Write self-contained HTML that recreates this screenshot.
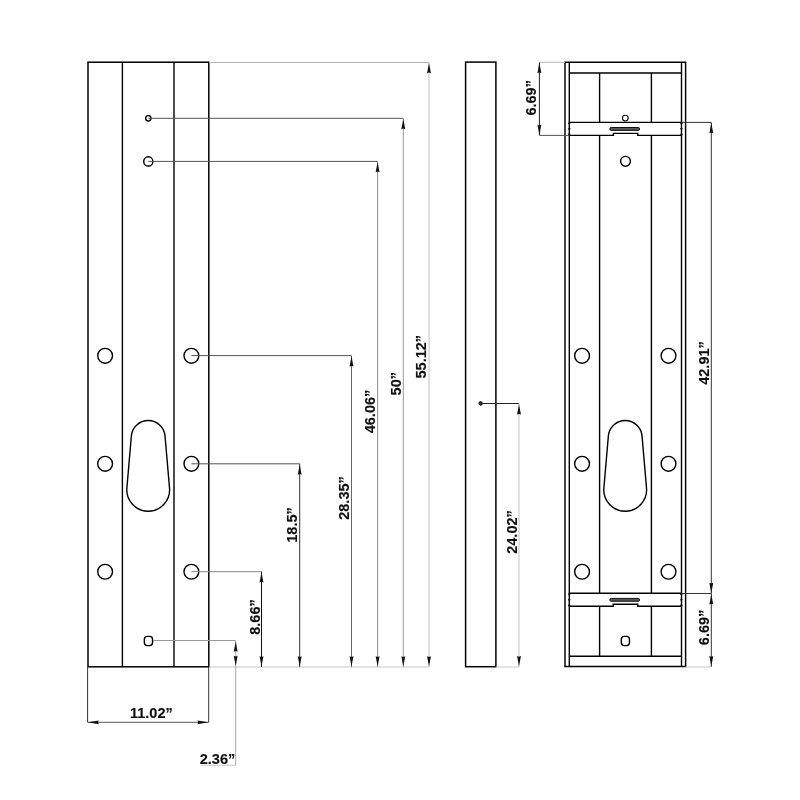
<!DOCTYPE html>
<html><head><meta charset="utf-8"><style>
html,body{margin:0;padding:0;background:#fff;}
svg{display:block;}
text{font-family:"Liberation Sans",sans-serif;font-weight:bold;fill:#111;stroke:#111;stroke-width:0.15px;}
svg{will-change:transform;}
</style></head><body>
<svg width="800" height="800" viewBox="0 0 800 800">
<rect width="800" height="800" fill="#fff"/>
<rect x="88" y="62.2" width="120.8" height="604.6" fill="none" stroke="#000" stroke-width="1.5"/>
<line x1="122.4" y1="62.2" x2="122.4" y2="666.8" stroke="#000" stroke-width="1.4"/>
<line x1="174" y1="62.2" x2="174" y2="666.8" stroke="#000" stroke-width="1.4"/>
<circle cx="148.3" cy="118.3" r="2.65" fill="none" stroke="#000" stroke-width="1.4"/>
<circle cx="148.3" cy="161.4" r="4.6" fill="none" stroke="#000" stroke-width="1.4"/>
<circle cx="105.1" cy="355.8" r="7.4" fill="none" stroke="#000" stroke-width="1.4"/>
<circle cx="191.4" cy="355.8" r="7.4" fill="none" stroke="#000" stroke-width="1.4"/>
<circle cx="105.1" cy="463.8" r="7.4" fill="none" stroke="#000" stroke-width="1.4"/>
<circle cx="191.4" cy="463.8" r="7.4" fill="none" stroke="#000" stroke-width="1.4"/>
<circle cx="105.1" cy="571.75" r="7.4" fill="none" stroke="#000" stroke-width="1.4"/>
<circle cx="191.4" cy="571.75" r="7.4" fill="none" stroke="#000" stroke-width="1.4"/>
<path d="M131.36,436.05 A16.9,16.9 0 0 1 165.04,436.05 L169.52,487.96 A21.4,21.4 0 1 1 126.88,487.96 Z" fill="none" stroke="#000" stroke-width="1.4"/>
<rect x="144.35" y="636.4" width="8.2" height="9.2" rx="3" fill="none" stroke="#000" stroke-width="1.4"/>
<line x1="209" y1="62.4" x2="429" y2="62.4" stroke="#b0b0b0" stroke-width="1"/>
<line x1="209" y1="667" x2="429" y2="667" stroke="#c8c8c8" stroke-width="1"/>
<line x1="429" y1="62.4" x2="429" y2="667" stroke="#c4c4c4" stroke-width="1"/>
<path d="M429,63 L430.95,73.3 L429,72.6 L427.05,73.3 Z" fill="#111"/>
<path d="M429,666.5 L430.95,656.2 L429,656.9000000000001 L427.05,656.2 Z" fill="#111"/>
<text transform="translate(426,356.7) rotate(-90)" text-anchor="middle" font-size="14.5">55.12”</text>
<line x1="148.3" y1="118.3" x2="403.3" y2="118.3" stroke="#555" stroke-width="1"/>
<line x1="403.3" y1="118.3" x2="403.3" y2="667" stroke="#9a9a9a" stroke-width="1"/>
<path d="M403.3,119 L405.25,129.3 L403.3,128.60000000000002 L401.35,129.3 Z" fill="#111"/>
<path d="M403.3,666.5 L405.25,656.2 L403.3,656.9000000000001 L401.35,656.2 Z" fill="#111"/>
<text transform="translate(400.5,383.7) rotate(-90)" text-anchor="middle" font-size="14.5">50”</text>
<line x1="148.3" y1="161.4" x2="377.6" y2="161.4" stroke="#555" stroke-width="1"/>
<line x1="377.6" y1="161.4" x2="377.6" y2="667" stroke="#8a8a8a" stroke-width="1"/>
<path d="M377.6,162 L379.55,172.3 L377.6,171.60000000000002 L375.65000000000003,172.3 Z" fill="#111"/>
<path d="M377.6,666.5 L379.55,656.2 L377.6,656.9000000000001 L375.65000000000003,656.2 Z" fill="#111"/>
<text transform="translate(374.7,411.5) rotate(-90)" text-anchor="middle" font-size="14.5">46.06”</text>
<line x1="191.4" y1="355.6" x2="351.5" y2="355.6" stroke="#555" stroke-width="1"/>
<line x1="351.5" y1="355.6" x2="351.5" y2="667" stroke="#666" stroke-width="1"/>
<path d="M351.5,356.3 L353.45,366.6 L351.5,365.90000000000003 L349.55,366.6 Z" fill="#111"/>
<path d="M351.5,666.5 L353.45,656.2 L351.5,656.9000000000001 L349.55,656.2 Z" fill="#111"/>
<text transform="translate(348.7,498) rotate(-90)" text-anchor="middle" font-size="14.5">28.35”</text>
<line x1="191.4" y1="463.8" x2="299.7" y2="463.8" stroke="#555" stroke-width="1"/>
<line x1="299.7" y1="463.8" x2="299.7" y2="667" stroke="#333" stroke-width="1"/>
<path d="M299.7,464.4 L301.65,474.7 L299.7,474.0 L297.75,474.7 Z" fill="#111"/>
<path d="M299.7,666.5 L301.65,656.2 L299.7,656.9000000000001 L297.75,656.2 Z" fill="#111"/>
<text transform="translate(297,525) rotate(-90)" text-anchor="middle" font-size="14.5">18.5”</text>
<line x1="191.4" y1="571.7" x2="261.5" y2="571.7" stroke="#888" stroke-width="1"/>
<line x1="261.5" y1="571.7" x2="261.5" y2="667" stroke="#111" stroke-width="1"/>
<path d="M261.5,572.2 L263.45,582.5 L261.5,581.8 L259.55,582.5 Z" fill="#111"/>
<path d="M261.5,666.5 L263.45,656.2 L261.5,656.9000000000001 L259.55,656.2 Z" fill="#111"/>
<text transform="translate(260,617) rotate(-90)" text-anchor="middle" font-size="14.5">8.66”</text>
<line x1="153" y1="640.5" x2="235.7" y2="640.5" stroke="#999" stroke-width="1"/>
<line x1="235.7" y1="640.5" x2="235.7" y2="765.5" stroke="#aaa" stroke-width="1"/>
<path d="M235.7,641.5 L237.64999999999998,651.8 L235.7,651.0999999999999 L233.75,651.8 Z" fill="#111"/>
<path d="M235.7,666 L237.64999999999998,655.7 L235.7,656.4000000000001 L233.75,655.7 Z" fill="#111"/>
<line x1="201" y1="765.3" x2="235.7" y2="765.3" stroke="#c4c4c4" stroke-width="0.9"/>
<text x="217.5" y="763.8" text-anchor="middle" font-size="14.5">2.36”</text>
<line x1="87.6" y1="667" x2="87.6" y2="722.3" stroke="#333" stroke-width="1"/>
<line x1="208.7" y1="667" x2="208.7" y2="722.2" stroke="#333" stroke-width="1"/>
<line x1="87.6" y1="722.3" x2="208.7" y2="722.3" stroke="#555" stroke-width="1"/>
<path d="M87.8,722.3 L98.8,724.1999999999999 L98.1,722.3 L98.8,720.4 Z" fill="#111"/>
<path d="M208.5,722.3 L197.5,724.1999999999999 L198.2,722.3 L197.5,720.4 Z" fill="#111"/>
<text x="151.4" y="718.1" text-anchor="middle" font-size="14.5">11.02”</text>
<rect x="465.6" y="62.1" width="30.3" height="604.6" fill="none" stroke="#000" stroke-width="1.5"/>
<circle cx="480.6" cy="403.5" r="1.6" fill="#444" stroke="#000" stroke-width="1.1"/>
<line x1="482" y1="403.5" x2="519" y2="403.5" stroke="#222" stroke-width="1"/>
<line x1="519" y1="403.5" x2="519" y2="667" stroke="#c8c8c8" stroke-width="1.1"/>
<line x1="495.9" y1="667" x2="519" y2="667" stroke="#c8c8c8" stroke-width="1"/>
<path d="M519,404.3 L520.95,414.6 L519,413.90000000000003 L517.05,414.6 Z" fill="#111"/>
<path d="M519,666.3 L520.95,656.0 L519,656.7 L517.05,656.0 Z" fill="#111"/>
<text transform="translate(517,532) rotate(-90)" text-anchor="middle" font-size="14.5">24.02”</text>
<line x1="565" y1="62.2" x2="565" y2="666.6" stroke="#000" stroke-width="1.45"/>
<line x1="685.6" y1="62.2" x2="685.6" y2="666.6" stroke="#000" stroke-width="1.45"/>
<line x1="564.3" y1="62.2" x2="686.3" y2="62.2" stroke="#000" stroke-width="1.5"/>
<line x1="564.3" y1="666.6" x2="686.3" y2="666.6" stroke="#000" stroke-width="1.5"/>
<line x1="569.3" y1="62.2" x2="569.3" y2="666.6" stroke="#000" stroke-width="1.4"/>
<line x1="681.5" y1="62.2" x2="681.5" y2="666.6" stroke="#000" stroke-width="1.4"/>
<line x1="569.3" y1="73" x2="681.5" y2="73" stroke="#000" stroke-width="1.4"/>
<line x1="569.3" y1="656.2" x2="681.5" y2="656.2" stroke="#000" stroke-width="1.4"/>
<line x1="599.6" y1="73" x2="599.6" y2="122.4" stroke="#000" stroke-width="1.4"/>
<line x1="599.6" y1="135.4" x2="599.6" y2="593.3" stroke="#000" stroke-width="1.4"/>
<line x1="599.6" y1="606" x2="599.6" y2="656.2" stroke="#000" stroke-width="1.4"/>
<line x1="651.4" y1="73" x2="651.4" y2="122.4" stroke="#000" stroke-width="1.4"/>
<line x1="651.4" y1="135.4" x2="651.4" y2="593.3" stroke="#000" stroke-width="1.4"/>
<line x1="651.4" y1="606" x2="651.4" y2="656.2" stroke="#000" stroke-width="1.4"/>
<line x1="569.3" y1="122.4" x2="681.5" y2="122.4" stroke="#000" stroke-width="1.4"/>
<path d="M569.3,135.4 L613.4,135.4 L613.4,133.4 L637.8,133.4 L637.8,135.4 L681.5,135.4" fill="none" stroke="#000" stroke-width="1.4"/>
<rect x="609.8" y="127.5" width="29.8" height="2.9" rx="1.45" fill="#555" stroke="#000" stroke-width="0.9"/>
<circle cx="625.3" cy="118.1" r="2.9" fill="none" stroke="#000" stroke-width="1.1"/>
<circle cx="625.5" cy="161.3" r="4.9" fill="none" stroke="#000" stroke-width="1.4"/>
<line x1="569.3" y1="593.3" x2="681.5" y2="593.3" stroke="#000" stroke-width="1.4"/>
<path d="M569.3,606.2 L613.2,606.2 L613.2,604.2 L637.8,604.2 L637.8,606.2 L681.5,606.2" fill="none" stroke="#000" stroke-width="1.4"/>
<rect x="609.8" y="598.4" width="29.8" height="2.9" rx="1.45" fill="#555" stroke="#000" stroke-width="0.9"/>
<circle cx="569.3" cy="123.3" r="1.15" fill="#000"/>
<circle cx="569.3" cy="128.8" r="1.15" fill="#000"/>
<circle cx="569.3" cy="134.6" r="1.15" fill="#000"/>
<circle cx="569.3" cy="594.1" r="1.15" fill="#000"/>
<circle cx="569.3" cy="599.8" r="1.15" fill="#000"/>
<circle cx="569.3" cy="605.5" r="1.15" fill="#000"/>
<circle cx="681.4" cy="123.3" r="1.15" fill="#000"/>
<circle cx="681.4" cy="128.8" r="1.15" fill="#000"/>
<circle cx="681.4" cy="134.6" r="1.15" fill="#000"/>
<circle cx="681.4" cy="594.1" r="1.15" fill="#000"/>
<circle cx="681.4" cy="599.8" r="1.15" fill="#000"/>
<circle cx="681.4" cy="605.5" r="1.15" fill="#000"/>
<circle cx="582.05" cy="355.8" r="7.4" fill="none" stroke="#000" stroke-width="1.4"/>
<circle cx="668.5" cy="355.8" r="7.4" fill="none" stroke="#000" stroke-width="1.4"/>
<circle cx="582.05" cy="463.8" r="7.4" fill="none" stroke="#000" stroke-width="1.4"/>
<circle cx="668.5" cy="463.8" r="7.4" fill="none" stroke="#000" stroke-width="1.4"/>
<circle cx="582.05" cy="571.75" r="7.4" fill="none" stroke="#000" stroke-width="1.4"/>
<circle cx="668.5" cy="571.75" r="7.4" fill="none" stroke="#000" stroke-width="1.4"/>
<path d="M608.36,436.05 A16.9,16.9 0 0 1 642.04,436.05 L646.52,487.96 A21.4,21.4 0 1 1 603.88,487.96 Z" fill="none" stroke="#000" stroke-width="1.4"/>
<rect x="621.3" y="636.4" width="8.2" height="9.2" rx="3" fill="none" stroke="#000" stroke-width="1.4"/>
<line x1="539.4" y1="62.3" x2="565" y2="62.3" stroke="#b8b8b8" stroke-width="1"/>
<line x1="539.4" y1="135.4" x2="569" y2="135.4" stroke="#555" stroke-width="1"/>
<line x1="539.4" y1="62.3" x2="539.4" y2="135.4" stroke="#222" stroke-width="1"/>
<path d="M539.4,62.8 L541.35,73.1 L539.4,72.39999999999999 L537.4499999999999,73.1 Z" fill="#111"/>
<path d="M539.4,135 L541.35,124.7 L539.4,125.4 L537.4499999999999,124.7 Z" fill="#111"/>
<text transform="translate(535.6,97.8) rotate(-90)" text-anchor="middle" font-size="14.5">6.69”</text>
<line x1="681.5" y1="122.4" x2="711.3" y2="122.4" stroke="#333" stroke-width="1"/>
<line x1="711.3" y1="122.4" x2="711.3" y2="667" stroke="#333" stroke-width="1"/>
<path d="M711.3,123 L713.25,133.3 L711.3,132.60000000000002 L709.3499999999999,133.3 Z" fill="#111"/>
<path d="M711.3,593 L713.25,582.7 L711.3,583.4000000000001 L709.3499999999999,582.7 Z" fill="#111"/>
<text transform="translate(709.4,363) rotate(-90)" text-anchor="middle" font-size="14.5">42.91”</text>
<line x1="681.5" y1="593.5" x2="711.3" y2="593.5" stroke="#333" stroke-width="1"/>
<line x1="685.6" y1="667" x2="711.3" y2="667" stroke="#c8c8c8" stroke-width="1"/>
<path d="M711.3,594.2 L713.25,604.5 L711.3,603.8 L709.3499999999999,604.5 Z" fill="#111"/>
<path d="M711.3,666.3 L713.25,656.0 L711.3,656.7 L709.3499999999999,656.0 Z" fill="#111"/>
<text transform="translate(708.5,627.4) rotate(-90)" text-anchor="middle" font-size="14.5">6.69”</text>
</svg>
</body></html>
